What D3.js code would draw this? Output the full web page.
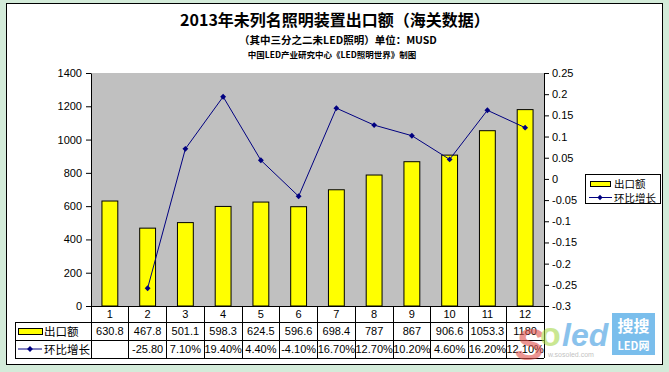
<!DOCTYPE html>
<html>
<head>
<meta charset="utf-8">
<script src="https://cdn.jsdelivr.net/npm/d3@7"></script>
<style>
  body { margin: 0; background: #d3ebd9; }
  text { font-family: "Liberation Sans", Arial, "Noto Sans CJK SC", sans-serif; }
  .cjk { font-family: "Noto Sans CJK SC", sans-serif; }
</style>
</head>
<body>
<div id="chart"></div>
<script>
const months = ["1", "2", "3", "4", "5", "6", "7", "8", "9", "10", "11", "12"];
const exportValues = [630.8, 467.8, 501.1, 598.3, 624.5, 596.6, 698.4, 787, 867, 906.6, 1053.3, 1180];
const exportLabels = ["630.8", "467.8", "501.1", "598.3", "624.5", "596.6", "698.4", "787", "867", "906.6", "1053.3", "1180"];
const growth = [null, -0.258, 0.071, 0.194, 0.044, -0.041, 0.167, 0.127, 0.102, 0.046, 0.162, 0.121];
const growthLabels = ["", "-25.80", "7.10%", "19.40%", "4.40%", "-4.10%", "16.70%", "12.70%", "10.20%", "4.60%", "16.20%", "12.10%"];
const leftTicks = [0, 200, 400, 600, 800, 1000, 1200, 1400];
const rightTicks = [-0.3, -0.25, -0.2, -0.15, -0.1, -0.05, 0, 0.05, 0.1, 0.15, 0.2, 0.25];

const width = 669, height = 372;
const plot = { left: 91, right: 544, top: 73, bottom: 306 };
const rows = [306, 322, 340, 358];
const tableLeft = 15;

const svg = d3.select("#chart").append("svg")
    .attr("width", width)
    .attr("height", height);

// frame
svg.append("rect")
    .attr("x", 6.5).attr("y", 3.5)
    .attr("width", 656).attr("height", 361)
    .attr("fill", "white")
    .attr("stroke", "black")
    .attr("stroke-width", 1);

// titles
svg.append("text").attr("class", "cjk")
    .attr("x", 335).attr("y", 26)
    .attr("text-anchor", "middle")
    .attr("font-size", "16px").attr("font-weight", "bold")
    .text("2013年未列名照明装置出口额（海关数据）");
svg.append("text").attr("class", "cjk")
    .attr("x", 338).attr("y", 44)
    .attr("text-anchor", "middle")
    .attr("font-size", "10.5px").attr("font-weight", "bold")
    .text("（其中三分之二未LED照明）单位：MUSD");
svg.append("text").attr("class", "cjk")
    .attr("x", 332).attr("y", 58)
    .attr("text-anchor", "middle")
    .attr("font-size", "8.5px").attr("font-weight", "bold")
    .text("中国LED产业研究中心《LED照明世界》制图");

const x = d3.scaleBand().domain(months).range([plot.left, plot.right]);
const yLeft = d3.scaleLinear().domain([0, 1400]).range([plot.bottom, plot.top]);
const yRight = d3.scaleLinear().domain([-0.3, 0.25]).range([plot.bottom, plot.top]);

// plot background
svg.append("rect")
    .attr("x", plot.left).attr("y", plot.top)
    .attr("width", plot.right - plot.left)
    .attr("height", plot.bottom - plot.top)
    .attr("fill", "#c0c0c0");

// bars
const barW = x.bandwidth() * 0.42;
svg.append("g").selectAll("rect")
    .data(exportValues)
    .join("rect")
    .attr("x", (d, i) => x(months[i]) + (x.bandwidth() - barW) / 2)
    .attr("y", d => yLeft(d))
    .attr("width", barW)
    .attr("height", d => plot.bottom - yLeft(d))
    .attr("fill", "#ffff00")
    .attr("stroke", "black")
    .attr("stroke-width", 1);

// axes
const leftAxis = svg.append("g")
    .attr("transform", `translate(${plot.left},0)`)
    .call(d3.axisLeft(yLeft).tickValues(leftTicks).tickSize(5).tickPadding(4).tickSizeOuter(0)
        .tickFormat(d3.format("d")));
const rightAxis = svg.append("g")
    .attr("transform", `translate(${plot.right},0)`)
    .call(d3.axisRight(yRight).tickValues(rightTicks).tickSize(5).tickPadding(3).tickSizeOuter(0)
        .tickFormat(d => String(+d.toFixed(2))));
[leftAxis, rightAxis].forEach(a => {
    a.select(".domain").attr("stroke", "black");
    a.selectAll("line").attr("stroke", "black");
    a.selectAll("text").attr("font-size", "11px").attr("fill", "black")
        .attr("font-family", "'Liberation Sans', Arial, sans-serif");
});
rightAxis.selectAll(".tick text").attr("text-anchor", "start");

// growth line
const pts = growth.map((g, i) => ({ g, m: months[i] })).filter(p => p.g !== null);
const line = d3.line()
    .x(p => x(p.m) + x.bandwidth() / 2)
    .y(p => yRight(p.g));
svg.append("path")
    .attr("d", line(pts))
    .attr("fill", "none")
    .attr("stroke", "#000080")
    .attr("stroke-width", 1);
svg.append("g").selectAll("path")
    .data(pts)
    .join("path")
    .attr("transform", p => `translate(${x(p.m) + x.bandwidth() / 2},${yRight(p.g)})`)
    .attr("d", d3.symbol(d3.symbolDiamond2, 22))
    .attr("fill", "#000080");

// data table
const table = svg.append("g").attr("stroke", "black").attr("stroke-width", 1).attr("shape-rendering", "crispEdges");
table.append("line").attr("x1", plot.left).attr("x2", plot.right).attr("y1", rows[0]).attr("y2", rows[0]);
table.append("line").attr("x1", tableLeft).attr("x2", plot.right).attr("y1", rows[1]).attr("y2", rows[1]);
table.append("line").attr("x1", tableLeft).attr("x2", plot.right).attr("y1", rows[2]).attr("y2", rows[2]);
table.append("line").attr("x1", tableLeft).attr("x2", plot.right).attr("y1", rows[3]).attr("y2", rows[3]);
table.append("line").attr("x1", tableLeft).attr("x2", tableLeft).attr("y1", rows[1]).attr("y2", rows[3]);
months.forEach(m => {
    table.append("line").attr("x1", x(m)).attr("x2", x(m)).attr("y1", rows[0]).attr("y2", rows[3]);
});
table.append("line").attr("x1", plot.right).attr("x2", plot.right).attr("y1", rows[0]).attr("y2", rows[3]);

const cellText = (labels, row) => svg.append("g").selectAll("text")
    .data(labels)
    .join("text")
    .attr("x", (d, i) => x(months[i]) + x.bandwidth() / 2)
    .attr("y", (rows[row] + rows[row + 1]) / 2 + 4)
    .attr("text-anchor", "middle")
    .attr("font-size", "11px")
    .text(d => d);
cellText(months, 0);
cellText(exportLabels, 1);
cellText(growthLabels, 2);

// table legend keys
svg.append("rect").attr("x", 18.5).attr("y", 328.5).attr("width", 24).attr("height", 6)
    .attr("fill", "#ffff00").attr("stroke", "black");
svg.append("text").attr("class", "cjk").attr("x", 44).attr("y", 335.5).attr("font-size", "11.5px").text("出口额");
svg.append("line").attr("x1", 18).attr("x2", 42).attr("y1", 349).attr("y2", 349).attr("stroke", "#000080");
svg.append("path").attr("transform", "translate(30,349)").attr("d", d3.symbol(d3.symbolDiamond2, 22)).attr("fill", "#000080");
svg.append("text").attr("class", "cjk").attr("x", 44).attr("y", 353.5).attr("font-size", "11.5px").text("环比增长");

// legend
const lg = svg.append("g");
lg.append("rect").attr("x", 585.5).attr("y", 174.5).attr("width", 75).attr("height", 29)
    .attr("fill", "white").attr("stroke", "black");
lg.append("rect").attr("x", 590.5).attr("y", 181.5).attr("width", 20).attr("height", 5)
    .attr("fill", "#ffff00").attr("stroke", "black");
lg.append("text").attr("class", "cjk").attr("x", 614).attr("y", 188).attr("font-size", "10.5px").text("出口额");
lg.append("line").attr("x1", 589).attr("x2", 612).attr("y1", 197.5).attr("y2", 197.5).attr("stroke", "#000080");
lg.append("path").attr("transform", "translate(600,197.5)").attr("d", d3.symbol(d3.symbolDiamond2, 18)).attr("fill", "#000080");
lg.append("text").attr("class", "cjk").attr("x", 614).attr("y", 201.5).attr("font-size", "10.5px").text("环比增长");

// watermark (logo drawn as shapes-with-text, semi-transparent over the table corner)
const wm = svg.append("g").attr("opacity", 0.6);
wm.append("text").attr("x", 515).attr("y", 360).attr("font-size", "44px").attr("font-style", "italic")
    .attr("font-weight", "bold").attr("fill", "#e0504a").text("S");
wm.append("text").attr("x", 540).attr("y", 346).attr("font-size", "34px").attr("font-weight", "bold")
    .attr("fill", "#a8d84a").text("o");
wm.append("text").attr("x", 562).attr("y", 346).attr("font-size", "32px").attr("font-style", "italic")
    .attr("font-weight", "bold").attr("fill", "#3d9be0").text("led");
wm.append("text").attr("x", 548).attr("y", 357).attr("font-size", "7px").attr("fill", "#999999").text("w.sosoled.com");
const wm2 = svg.append("g").attr("opacity", 0.8);
wm2.append("rect").attr("x", 612).attr("y", 313).attr("width", 43).attr("height", 42).attr("fill", "#5aaee8");
wm2.append("text").attr("class", "cjk").attr("x", 633.5).attr("y", 332).attr("text-anchor", "middle")
    .attr("font-size", "16px").attr("font-weight", "bold").attr("fill", "white").text("搜搜");
wm2.append("text").attr("class", "cjk").attr("x", 633.5).attr("y", 350).attr("text-anchor", "middle")
    .attr("font-size", "11px").attr("font-weight", "bold").attr("fill", "white").text("LED网");
</script>
</body>
</html>
